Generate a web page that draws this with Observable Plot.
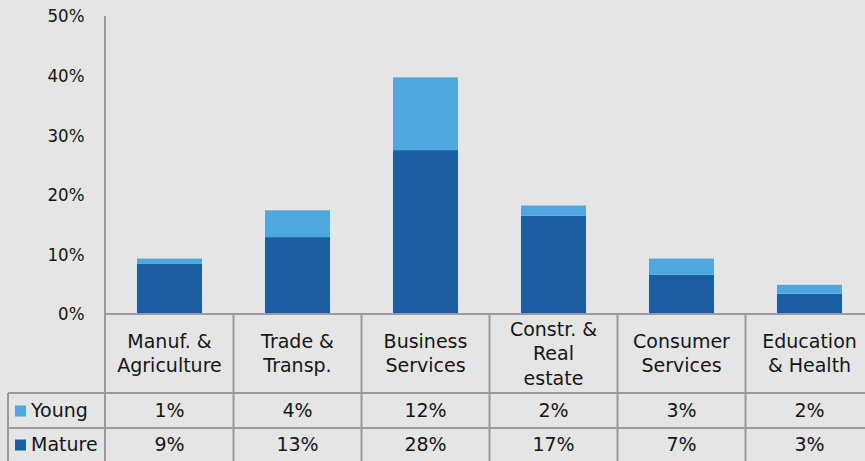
<!DOCTYPE html>
<html><head><meta charset="utf-8">
<script src="https://cdn.jsdelivr.net/npm/d3@7"></script>
<script src="https://cdn.jsdelivr.net/npm/@observablehq/plot@0.6"></script>
<style>
html,body{margin:0;padding:0;background:#e5e5e5;overflow:hidden}
#chart{width:865px;height:461px}
</style>
</head><body><div id="chart"></div>
<script>
const categories = ["Manuf. &\nAgriculture","Trade &\nTransp.","Business\nServices","Constr. &\nReal\nestate","Consumer\nServices","Education\n& Health"];
const series = ["Mature","Young"];
const mature = [8.4,12.9,27.5,16.5,6.6,3.4];
const young = [0.9,4.5,12.2,1.7,2.7,1.5];
const youngLabels = ["1%","4%","12%","2%","3%","2%"];
const matureLabels = ["9%","13%","28%","17%","7%","3%"];
const yTicks = [0,10,20,30,40,50];
const colorRange = ["#1b5ea2","#4ea8df"];

const data = [];
categories.forEach((c,i)=>{
  data.push({category:c, series:"Mature", value:mature[i]});
  data.push({category:c, series:"Young", value:young[i]});
});

const FONT = "DejaVu Sans";
const TICKFONT = "'DejaVu Sans Condensed', sans-serif";
const plot = Plot.plot({
  width: 865, height: 461,
  marginLeft: 105, marginRight: 0, marginTop: 16, marginBottom: 147,
  style: {background:"transparent", fontFamily: TICKFONT, fontSize:"18.5px", color:"#151515", overflow:"visible"},
  x: {domain: categories, range:[105, 875], paddingInner:0.49, paddingOuter:0.245, axis:null},
  y: {domain:[0,50], ticks: yTicks, tickFormat: d=>d+"%", tickSize:0, tickPadding:21, label:null},
  color: {domain: series, range: colorRange},
  marks: [
    Plot.barY(data, Plot.stackY({x:"category", y:"value", fill:"series", order: series}))
  ]
});
document.getElementById("chart").appendChild(plot);

// Table and axis lines overlay
const xs = plot.scale("x");
const ys = plot.scale("y");
const svg = d3.select(plot);
const step = xs.step, bw = xs.bandwidth;
const colStart = c => xs.apply(c) - (step - bw)/2;
const y0 = ys.apply(0);
const headerBottom = 393, youngBottom = 428, tableBottom = 470, leftEdge = 8;
const lineColor = "#9a9a9a";
const g = svg.append("g").attr("font-family", FONT).attr("font-size", 19).attr("fill", "#151515");

g.append("line").attr("x1",105).attr("x2",105).attr("y1",ys.apply(50)).attr("y2",tableBottom)
  .attr("stroke",lineColor).attr("stroke-width",2);
g.append("line").attr("x1",105).attr("x2",865).attr("y1",y0).attr("y2",y0).attr("stroke",lineColor).attr("stroke-width",2);
[headerBottom, youngBottom].forEach(yy=>{
  g.append("line").attr("x1",leftEdge).attr("x2",865).attr("y1",yy).attr("y2",yy).attr("stroke",lineColor).attr("stroke-width",2);
});
g.append("line").attr("x1",leftEdge).attr("x2",leftEdge).attr("y1",headerBottom).attr("y2",tableBottom).attr("stroke",lineColor).attr("stroke-width",2);
categories.forEach((c,i)=>{
  if(i>0){
    const xx = colStart(c);
    g.append("line").attr("x1",xx).attr("x2",xx).attr("y1",y0).attr("y2",tableBottom).attr("stroke",lineColor).attr("stroke-width",2);
  }
  const cx = colStart(c) + step/2;
  const lines = c.split("\n");
  const lh = 24.5;
  const mid = (y0 + headerBottom)/2;
  lines.forEach((ln,j)=>{
    g.append("text").attr("x",cx).attr("y", mid + (j - (lines.length-1)/2)*lh).attr("text-anchor","middle")
      .attr("dy","0.35em").text(ln);
  });
  g.append("text").attr("x",cx).attr("y",(headerBottom+youngBottom)/2).attr("text-anchor","middle").attr("dy","0.35em").text(youngLabels[i]);
  g.append("text").attr("x",cx).attr("y",(youngBottom+461)/2).attr("text-anchor","middle").attr("dy","0.35em").text(matureLabels[i]);
});
[["Young", (headerBottom+youngBottom)/2, colorRange[1]],["Mature",(youngBottom+461)/2, colorRange[0]]].forEach(([name,yy,col])=>{
  g.append("rect").attr("x",15).attr("y",yy-5).attr("width",11).attr("height",11).attr("fill",col);
  g.append("text").attr("x",31).attr("y",yy).attr("dy","0.35em").attr("text-anchor","start").text(name);
});
</script>
</body></html>
